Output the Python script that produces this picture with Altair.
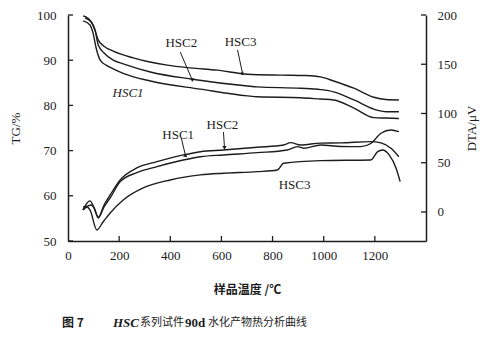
import altair as alt
import pandas as pd

# ---------------- data ----------------
# TG curves (temperature / degC, TG / %)
tg_hsc3_t = [59, 78, 94, 106, 118, 141, 177, 255, 388, 479, 584, 702, 832, 930, 988, 1039, 1118, 1196, 1243, 1294]
tg_hsc3_v = [99.8, 99.3, 98.2, 96.5, 94.5, 93.1, 92.0, 90.5, 88.9, 88.3, 87.8, 86.9, 86.7, 86.6, 86.3, 85.4, 83.8, 81.8, 81.3, 81.2]
tg_hsc2_t = [67, 90, 106, 118, 141, 177, 216, 322, 486, 702, 741, 910, 988, 1039, 1118, 1212, 1243, 1294]
tg_hsc2_v = [99.3, 98.5, 96.7, 93.4, 91.6, 90.0, 89.2, 87.4, 85.8, 84.3, 84.1, 83.8, 83.5, 83.0, 81.2, 78.9, 78.6, 78.6]
tg_hsc1_t = [59, 86, 98, 110, 126, 149, 177, 216, 322, 518, 702, 741, 910, 988, 1039, 1118, 1196, 1243, 1294]
tg_hsc1_v = [98.7, 97.8, 96.0, 92.7, 90.0, 88.9, 88.1, 87.1, 85.4, 83.6, 82.1, 81.9, 81.7, 81.4, 81.2, 79.4, 77.3, 77.2, 77.1]

# DTA curves (temperature / degC, DTA / uV)
dta_hsc2_t = [58, 86, 102, 119, 141, 165, 204, 269, 348, 451, 518, 608, 740, 843, 871, 910, 988, 1067, 1184, 1224, 1263, 1294]
dta_hsc2_v = [2.0, 11.2, 4.1, -5.4, 7.1, 17.3, 32.5, 44.7, 51.1, 57.9, 61.2, 62.9, 65.7, 68.0, 70.4, 68.0, 69.9, 70.1, 71.4, 70.1, 64.7, 56.1]
dta_hsc1_t = [59, 78, 90, 102, 118, 141, 165, 204, 269, 348, 451, 518, 608, 740, 858, 897, 922, 988, 1067, 1145, 1184, 1224, 1263, 1294]
dta_hsc1_v = [5.1, 6.1, 7.1, 4.1, -6.1, 5.1, 14.2, 30.8, 39.9, 46.0, 52.8, 56.1, 57.9, 60.2, 62.9, 66.3, 64.7, 68.0, 66.5, 66.3, 69.5, 79.9, 83.2, 81.5]
dta_hsc3_t = [59, 75, 86, 113, 137, 165, 216, 294, 400, 518, 608, 740, 819, 843, 988, 1184, 1211, 1230, 1256, 1283, 1299]
dta_hsc3_v = [2.0, 5.1, 2.0, -18.3, -10.2, -1.0, 12.2, 24.4, 32.5, 37.6, 39.3, 40.9, 42.6, 49.4, 52.1, 52.8, 61.2, 62.9, 57.9, 44.4, 30.8]

# tick values
x_ticks = [200, 400, 600, 800, 1000, 1200]
x_labels = [0, 200, 400, 600, 800, 1000, 1200]
tg_ticks = [50, 60, 70, 80, 90, 100]
dta_ticks = [0, 50, 100, 150, 200]

# curve labels (placed in TG units)
lab_text = ["HSC2", "HSC3", "HSC1", "HSC2", "HSC3"]
lab_t = [443, 675, 431, 604, 886]
lab_v = [93.8, 94.0, 73.5, 75.7, 62.4]
italic_text = ["HSC1"]
italic_t = [235]
italic_v = [82.7]

# arrows: start and end (TG units)
arr_t1 = [439, 663, 443, 608]
arr_v1 = [91.8, 92.3, 72.8, 74.1]
arr_t2 = [486, 682, 459, 612]
arr_v2 = [85.6, 87.2, 69.0, 70.6]
arr_ang = [337, 348, 347, 356]

# ---------------- frames ----------------
def frame(t, v, name):
    return pd.DataFrame({"T": t, "v": v, "s": name})

tg_df = pd.concat([frame(tg_hsc1_t, tg_hsc1_v, "HSC1"),
                   frame(tg_hsc2_t, tg_hsc2_v, "HSC2"),
                   frame(tg_hsc3_t, tg_hsc3_v, "HSC3")])
dta_df = pd.concat([frame(dta_hsc1_t, dta_hsc1_v, "HSC1"),
                    frame(dta_hsc2_t, dta_hsc2_v, "HSC2"),
                    frame(dta_hsc3_t, dta_hsc3_v, "HSC3")])
lab_df = pd.DataFrame({"T": lab_t, "v": lab_v, "text": lab_text})
ital_df = pd.DataFrame({"T": italic_t, "v": italic_v, "text": italic_text})
arr_df = pd.DataFrame({"T": arr_t1, "v": arr_v1, "T2": arr_t2, "v2": arr_v2, "ang": arr_ang})

W, H = 358, 226
SERIF = "Liberation Serif"
CJK = "Noto Sans CJK SC"
INK = "#1c1c1c"

x_scale = alt.Scale(domain=[0, 1400], nice=False, zero=False)
tg_scale = alt.Scale(domain=[50, 100], nice=False, zero=False)
dta_scale = alt.Scale(domain=[-29.5, 200], nice=False, zero=False)

x_axis = alt.Axis(values=x_labels, ticks=False, grid=False, domainColor=INK, domainWidth=1.5,
                  labelFont=SERIF, labelFontSize=13, labelColor=INK, labelPadding=8,
                  labelFlush=False, format="d",
                  title="样品温度 /℃", titleFont=CJK, titleFontSize=12, titleFontWeight="bold",
                  titleColor=INK, titlePadding=22)
tg_axis = alt.Axis(values=tg_ticks, ticks=False, grid=False, domainColor=INK, domainWidth=1.5,
                   labelFont=SERIF, labelFontSize=13, labelColor=INK, labelPadding=12,
                   labelFlush=False, format="d",
                   title="TG/%", titleFont=SERIF, titleFontSize=13, titleFontWeight="normal",
                   titleColor=INK, titlePadding=14)
dta_axis = alt.Axis(values=dta_ticks, orient="right", ticks=False, grid=False, domainColor=INK,
                    domainWidth=1.5, labelFont=SERIF, labelFontSize=13, labelColor=INK,
                    labelPadding=11, labelFlush=False, format="d",
                    title="DTA/μV", titleFont=SERIF, titleFontSize=13, titleFontWeight="normal",
                    titleColor=INK, titlePadding=22, titleAngle=270)

X = alt.X("T:Q", scale=x_scale, axis=x_axis)
Ytg = alt.Y("v:Q", scale=tg_scale, axis=tg_axis)
Ydta = alt.Y("v:Q", scale=dta_scale, axis=dta_axis)

tg_lines = alt.Chart(tg_df).mark_line(color=INK, strokeWidth=1.4, interpolate="monotone").encode(
    x=X, y=Ytg, detail="s:N")
labels = alt.Chart(lab_df).mark_text(font=SERIF, fontSize=13, color=INK).encode(
    x=X, y=Ytg, text="text:N")
ital = alt.Chart(ital_df).mark_text(font=SERIF, fontSize=13, fontStyle="italic", color=INK).encode(
    x=X, y=Ytg, text="text:N")
arrows = alt.Chart(arr_df).mark_rule(color=INK, strokeWidth=1).encode(
    x=X, y=Ytg, x2="T2:Q", y2="v2:Q")
heads = alt.Chart(arr_df).mark_point(shape="triangle-down", filled=True, color=INK, size=18, opacity=1).encode(
    x=alt.X("T2:Q", scale=x_scale, axis=x_axis), y=alt.Y("v2:Q", scale=tg_scale, axis=tg_axis), angle="ang:Q")
xt = alt.Chart(pd.DataFrame({"T": x_ticks})).mark_rule(color=INK, strokeWidth=1.3).encode(
    x=X, y=alt.value(H), y2=alt.value(H - 5))
yt = alt.Chart(pd.DataFrame({"v": tg_ticks})).mark_rule(color=INK, strokeWidth=1.3).encode(
    y=Ytg, x=alt.value(0), x2=alt.value(5))

# caption pieces
cap = alt.Chart(pd.DataFrame({"a": [0]}))
c1 = cap.mark_text(text="图 7", font=CJK, fontSize=12, fontWeight="bold", color=INK, align="left").encode(
    x=alt.value(-6), y=alt.value(308))
c2 = cap.mark_text(text="HSC", font=SERIF, fontSize=13, fontWeight="bold", fontStyle="italic", color=INK, align="left").encode(
    x=alt.value(45), y=alt.value(308))
c3 = cap.mark_text(text="系列试件", font=CJK, fontSize=11, color=INK, align="left").encode(
    x=alt.value(72), y=alt.value(308))
c4 = cap.mark_text(text="90d", font=SERIF, fontSize=13, fontWeight="bold", color=INK, align="left").encode(
    x=alt.value(117), y=alt.value(308))
c5 = cap.mark_text(text="水化产物热分析曲线", font=CJK, fontSize=11, color=INK, align="left").encode(
    x=alt.value(140), y=alt.value(308))

tg_group = alt.layer(tg_lines, labels, ital, arrows, heads, xt, yt, c1, c2, c3, c4, c5)

dta_lines = alt.Chart(dta_df).mark_line(color=INK, strokeWidth=1.4, interpolate="monotone").encode(
    x=X, y=Ydta, detail="s:N")
rt = alt.Chart(pd.DataFrame({"v": dta_ticks})).mark_rule(color=INK, strokeWidth=1.3).encode(
    y=Ydta, x=alt.value(W), x2=alt.value(W - 5))
dta_group = alt.layer(dta_lines, rt)

chart = alt.layer(tg_group, dta_group).resolve_scale(y="independent").properties(
    width=W, height=H,
    autosize=alt.AutoSizeParams(type="none"),
    padding={"left": 68, "top": 15, "right": 74, "bottom": 99},
    background="white",
).configure_view(stroke=None)

chart.save("out.html", embed_options={"renderer": "svg", "actions": False})
